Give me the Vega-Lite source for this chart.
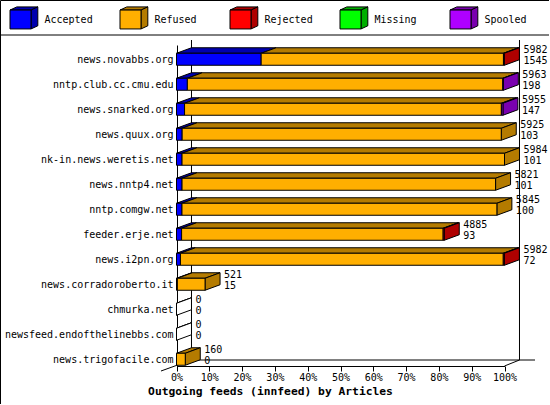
{
"$schema":"https://vega.github.io/schema/vega-lite/v6.json",
"width":549,"height":404,"padding":0,"autosize":"none","background":"white",
"config":{"font":"DejaVu Sans Mono","view":{"stroke":"black","strokeWidth":1},"text":{"font":"DejaVu Sans Mono","fontSize":10}},
"datasets":{
"totals":[
{"host":"news.novabbs.org","row":0,"total":5982,"accepted":1545},
{"host":"nntp.club.cc.cmu.edu","row":1,"total":5963,"accepted":198},
{"host":"news.snarked.org","row":2,"total":5955,"accepted":147},
{"host":"news.quux.org","row":3,"total":5925,"accepted":103},
{"host":"nk-in.news.weretis.net","row":4,"total":5984,"accepted":101},
{"host":"news.nntp4.net","row":5,"total":5821,"accepted":101},
{"host":"nntp.comgw.net","row":6,"total":5845,"accepted":100},
{"host":"feeder.erje.net","row":7,"total":4885,"accepted":93},
{"host":"news.i2pn.org","row":8,"total":5982,"accepted":72},
{"host":"news.corradoroberto.it","row":9,"total":521,"accepted":15},
{"host":"chmurka.net","row":10,"total":0,"accepted":0},
{"host":"newsfeed.endofthelinebbs.com","row":11,"total":0,"accepted":0},
{"host":"news.trigofacile.com","row":12,"total":160,"accepted":0}
],
"frame":[
{"seg":"a","p":4.57,"i":-0.77},{"seg":"a","p":4.57,"i":12.03},
{"seg":"b","p":104.57,"i":-0.77},{"seg":"b","p":104.57,"i":12.03},
{"seg":"c","p":4.57,"i":12.03},{"seg":"c","p":109.3,"i":12.03},
{"seg":"d","p":-4.73,"i":12.47},{"seg":"d","p":4.57,"i":12.03},
{"seg":"e","p":100,"i":12.27},{"seg":"e","p":104.57,"i":12.03}
],
"legend":[{"status":"Accepted"},{"status":"Refused"},{"status":"Rejected"},{"status":"Missing"},{"status":"Spooled"}]
},
"data":{"values":[
{"host":"news.novabbs.org","row":0,"status":"Accepted","count":1545},
{"host":"news.novabbs.org","row":0,"status":"Refused","count":4420},
{"host":"news.novabbs.org","row":0,"status":"Rejected","count":17},
{"host":"nntp.club.cc.cmu.edu","row":1,"status":"Accepted","count":198},
{"host":"nntp.club.cc.cmu.edu","row":1,"status":"Refused","count":5755},
{"host":"nntp.club.cc.cmu.edu","row":1,"status":"Spooled","count":10},
{"host":"news.snarked.org","row":2,"status":"Accepted","count":147},
{"host":"news.snarked.org","row":2,"status":"Refused","count":5780},
{"host":"news.snarked.org","row":2,"status":"Spooled","count":28},
{"host":"news.quux.org","row":3,"status":"Accepted","count":103},
{"host":"news.quux.org","row":3,"status":"Refused","count":5822},
{"host":"nk-in.news.weretis.net","row":4,"status":"Accepted","count":101},
{"host":"nk-in.news.weretis.net","row":4,"status":"Refused","count":5883},
{"host":"news.nntp4.net","row":5,"status":"Accepted","count":101},
{"host":"news.nntp4.net","row":5,"status":"Refused","count":5720},
{"host":"nntp.comgw.net","row":6,"status":"Accepted","count":100},
{"host":"nntp.comgw.net","row":6,"status":"Refused","count":5745},
{"host":"feeder.erje.net","row":7,"status":"Accepted","count":93},
{"host":"feeder.erje.net","row":7,"status":"Refused","count":4772},
{"host":"feeder.erje.net","row":7,"status":"Rejected","count":20},
{"host":"news.i2pn.org","row":8,"status":"Accepted","count":72},
{"host":"news.i2pn.org","row":8,"status":"Refused","count":5890},
{"host":"news.i2pn.org","row":8,"status":"Rejected","count":20},
{"host":"news.corradoroberto.it","row":9,"status":"Accepted","count":15},
{"host":"news.corradoroberto.it","row":9,"status":"Refused","count":506},
{"host":"chmurka.net","row":10,"status":"None","count":0},
{"host":"newsfeed.endofthelinebbs.com","row":11,"status":"None","count":0},
{"host":"news.trigofacile.com","row":12,"status":"Refused","count":160}
]},
"transform":[
{"stack":"count","groupby":["host"],"as":["c0","c1"]},
{"joinaggregate":[{"op":"max","field":"c1","as":"tot"}],"groupby":["host"]},
{"calculate":"datum.c0/5984*100","as":"p0"},
{"calculate":"datum.c1/5984*100","as":"p1"},
{"calculate":"datum.row-0.24","as":"yT"},
{"calculate":"datum.row+0.24","as":"yB"},
{"calculate":"datum.status+' shade'","as":"shade"}
],
"resolve":{"scale":{"x":"independent"},"axis":{"x":"independent","y":"independent"}},
"layer":[
{"resolve":{"axis":{"x":"independent","y":"independent"}},
 "layer":[
 {"data":{"name":"frame"},
  "mark":{"type":"line","stroke":"black","strokeWidth":1},
  "encoding":{
   "x":{"field":"p","type":"quantitative","scale":{"domain":[0,100],"range":[176.5,504.5]},"axis":null},
   "y":{"field":"i","type":"quantitative","scale":{"domain":[12.27,-0.57],"range":[366,45]},"axis":null},
   "detail":{"field":"seg"},"order":null}},
 {"transform":[{"calculate":"[0,1]","as":"v"},{"flatten":["v"]},
   {"calculate":"datum.p0+datum.v*4.57","as":"tx0"},{"calculate":"datum.p1+datum.v*4.57","as":"tx1"},{"calculate":"datum.yT-datum.v*0.22","as":"ty"}],
  "mark":{"type":"area","orient":"horizontal","stroke":"black","strokeWidth":1,"opacity":1},
  "encoding":{
   "x":{"field":"tx0","type":"quantitative","stack":null,"scale":{"domain":[0,100],"range":[176.5,504.5]},"axis":null},
   "x2":{"field":"tx1"},
   "y":{"field":"ty","type":"quantitative","scale":{"domain":[12.27,-0.57],"range":[366,45]},"axis":null},
   "color":{"field":"shade","type":"nominal","legend":null},
   "detail":{"field":"host"}}},
 {"transform":[{"filter":"datum.c1==datum.tot"},{"calculate":"[0,1]","as":"v"},{"flatten":["v"]},
   {"calculate":"datum.p1+datum.v*4.57","as":"sx"},{"calculate":"datum.yT-datum.v*0.22","as":"sy0"},{"calculate":"datum.yB-datum.v*0.22","as":"sy1"}],
  "mark":{"type":"area","orient":"vertical","stroke":"black","strokeWidth":1,"opacity":1},
  "encoding":{
   "x":{"field":"sx","type":"quantitative","scale":{"domain":[0,100],"range":[176.5,504.5]},"axis":null},
   "y":{"field":"sy0","type":"quantitative","stack":null,"scale":{"domain":[12.27,-0.57],"range":[366,45]},"axis":null},
   "y2":{"field":"sy1"},
   "color":{"field":"shade","type":"nominal","legend":null},
   "detail":{"field":"host"}}},
 {"mark":{"type":"rect","stroke":"black","strokeWidth":1,"opacity":1},
  "encoding":{
   "x":{"field":"p0","type":"quantitative","scale":{"domain":[0,100],"range":[176.5,504.5]},
     "axis":{"orient":"bottom","offset":-38,"values":[0,10,20,30,40,50,60,70,80,90,100],"labelExpr":"datum.value+'%'","labelOverlap":false,"labelFlush":false,"labelBound":false,"tickSize":5,"tickColor":"black","domainColor":"black","labelColor":"black","labelFontSize":10,"labelFont":"DejaVu Sans Mono","labelPadding":1,"grid":false,
       "title":"Outgoing feeds (innfeed) by Articles","titleFont":"DejaVu Sans Mono","titleFontWeight":"bold","titleFontSize":11.3,"titleColor":"black","titleX":270,"titleY":25,"titleAlign":"center","titleBaseline":"middle"}},
   "x2":{"field":"p1"},
   "y":{"field":"yT","type":"quantitative","scale":{"domain":[12.27,-0.57],"range":[366,45]},
     "axis":{"orient":"left","offset":-177,"values":[0,1,2,3,4,5,6,7,8,9,10,11,12],"labelExpr":"['news.novabbs.org','nntp.club.cc.cmu.edu','news.snarked.org','news.quux.org','nk-in.news.weretis.net','news.nntp4.net','nntp.comgw.net','feeder.erje.net','news.i2pn.org','news.corradoroberto.it','chmurka.net','newsfeed.endofthelinebbs.com','news.trigofacile.com'][datum.value]","ticks":false,"domainColor":"black","labelColor":"black","labelFontSize":10,"labelFont":"DejaVu Sans Mono","labelPadding":4,"grid":false,"title":null,"labelOverlap":false}},
   "y2":{"field":"yB"},
   "color":{"field":"status","type":"nominal","legend":null,
     "scale":{"domain":["Accepted","Refused","Rejected","Missing","Spooled","None","Accepted shade","Refused shade","Rejected shade","Missing shade","Spooled shade","None shade"],
              "range":["#0000FF","#FFAF00","#FF0000","#00FF00","#AF00FF","#FFFFFF","#0000AF","#B47B00","#AF0000","#00AF00","#7A00AF","#FFFFFF"]}}}},
 {"data":{"name":"totals"},
  "transform":[{"calculate":"datum.total/5984*100+4.57","as":"lx"}],
  "mark":{"type":"text","align":"left","baseline":"middle","dx":4,"dy":-9.5,"fontSize":10,"color":"black"},
  "encoding":{
   "x":{"field":"lx","type":"quantitative","scale":{"domain":[0,100],"range":[176.5,504.5]},"axis":null},
   "y":{"field":"row","type":"quantitative","scale":{"domain":[12.27,-0.57],"range":[366,45]},"axis":null},
   "text":{"field":"total","type":"nominal"}}},
 {"data":{"name":"totals"},
  "transform":[{"calculate":"datum.total/5984*100+4.57","as":"lx"}],
  "mark":{"type":"text","align":"left","baseline":"middle","dx":4,"dy":1.5,"fontSize":10,"color":"black"},
  "encoding":{
   "x":{"field":"lx","type":"quantitative","scale":{"domain":[0,100],"range":[176.5,504.5]},"axis":null},
   "y":{"field":"row","type":"quantitative","scale":{"domain":[12.27,-0.57],"range":[366,45]},"axis":null},
   "text":{"field":"accepted","type":"nominal"}}}
 ]},
{"resolve":{"axis":{"x":"independent","y":"independent"}},
 "layer":[
 {"mark":{"type":"rule","stroke":"black","strokeWidth":1},
  "data":{"values":[{"sep":-0.97}]},
  "encoding":{"y":{"field":"sep","type":"quantitative","scale":{"domain":[12.27,-0.57],"range":[366,45]},"axis":null}}},
 {"data":{"name":"legend"},"transform":[{"calculate":"datum.status+' shade'","as":"shade"}],
  "mark":{"type":"point","filled":true,"opacity":1,"stroke":"black","strokeWidth":1,"shape":"M-1,-0.9L-0.35,-1.2H1.65L1,-0.9Z","size":441},
  "encoding":{
   "x":{"field":"status","type":"nominal","sort":null,"scale":{"type":"point","domain":["Accepted","Refused","Rejected","Missing","Spooled"],"range":[20.5,460.5],"padding":0},"axis":null},
   "y":{"datum":-1.59,"type":"quantitative","scale":{"domain":[12.27,-0.57],"range":[366,45]},"axis":null},
   "color":{"field":"shade","type":"nominal","legend":null}}},
 {"data":{"name":"legend"},"transform":[{"calculate":"datum.status+' shade'","as":"shade"}],
  "mark":{"type":"point","filled":true,"opacity":1,"stroke":"black","strokeWidth":1,"shape":"M1,-0.9L1.65,-1.2V0.6L1,0.9Z","size":441},
  "encoding":{
   "x":{"field":"status","type":"nominal","sort":null,"scale":{"type":"point","domain":["Accepted","Refused","Rejected","Missing","Spooled"],"range":[20.5,460.5],"padding":0},"axis":null},
   "y":{"datum":-1.59,"type":"quantitative","scale":{"domain":[12.27,-0.57],"range":[366,45]},"axis":null},
   "color":{"field":"shade","type":"nominal","legend":null}}},
 {"data":{"name":"legend"},
  "mark":{"type":"point","filled":true,"opacity":1,"stroke":"black","strokeWidth":1,"shape":"M-1,-0.9H1V0.9H-1Z","size":441},
  "encoding":{
   "x":{"field":"status","type":"nominal","sort":null,"scale":{"type":"point","domain":["Accepted","Refused","Rejected","Missing","Spooled"],"range":[20.5,460.5],"padding":0},"axis":null},
   "y":{"datum":-1.59,"type":"quantitative","scale":{"domain":[12.27,-0.57],"range":[366,45]},"axis":null},
   "color":{"field":"status","type":"nominal","legend":null}}},
 {"data":{"name":"legend"},
  "mark":{"type":"text","align":"left","baseline":"middle","dx":24,"fontSize":10,"color":"black"},
  "encoding":{
   "x":{"field":"status","type":"nominal","sort":null,"scale":{"type":"point","domain":["Accepted","Refused","Rejected","Missing","Spooled"],"range":[20.5,460.5],"padding":0},"axis":null},
   "y":{"datum":-1.59,"type":"quantitative","scale":{"domain":[12.27,-0.57],"range":[366,45]},"axis":null},
   "text":{"field":"status","type":"nominal"}}}
 ]}
]
}
